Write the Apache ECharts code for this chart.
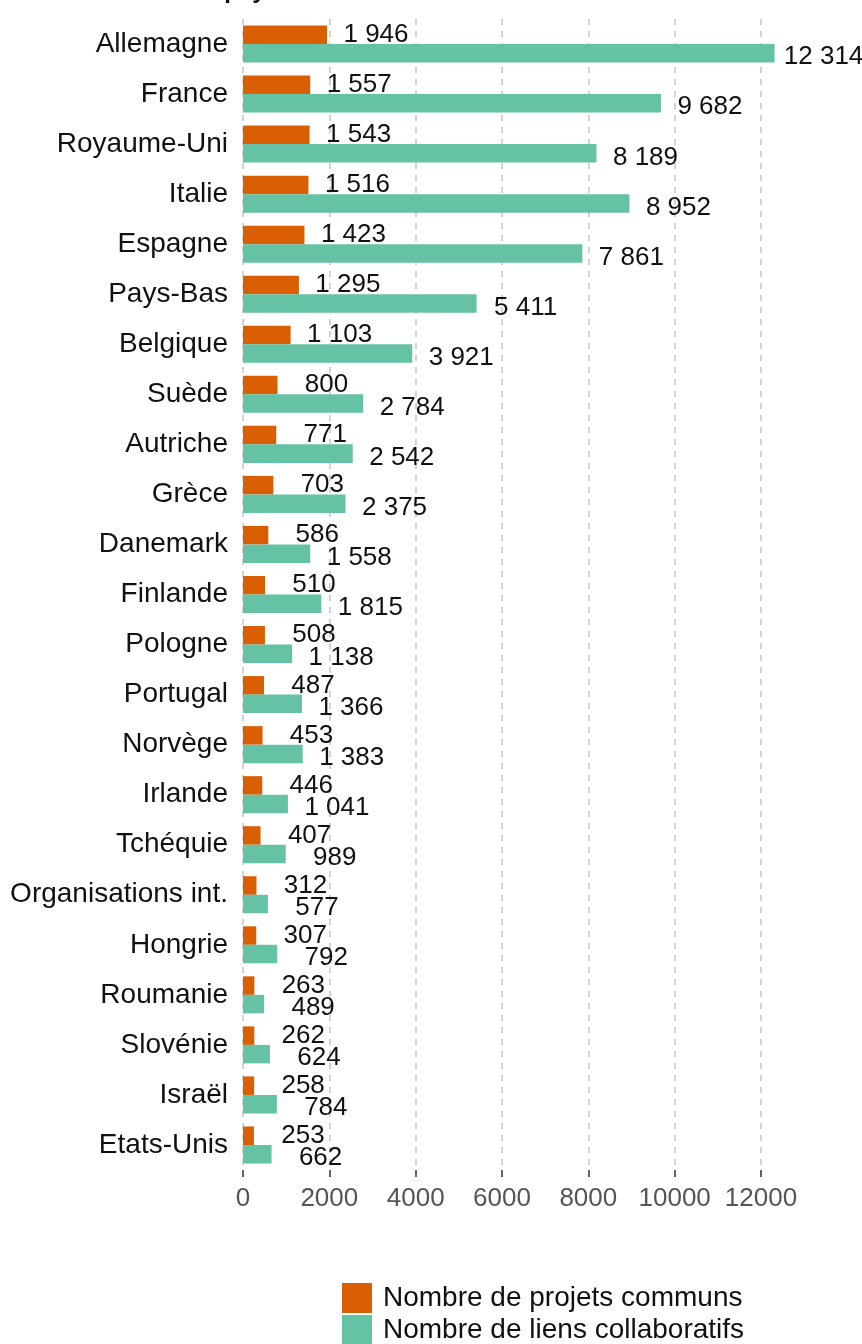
<!DOCTYPE html>
<html>
<head>
<meta charset="utf-8">
<script src="https://cdn.jsdelivr.net/npm/echarts@6/dist/echarts.min.js"></script>
<style>
  html, body { margin: 0; padding: 0; background: #ffffff; }
  #chart { width: 862px; height: 1344px; }
</style>
</head>
<body>
<div id="chart"></div>
<script>
// Partner countries, listed from top to bottom
const categories = [
  'Allemagne', 'France', 'Royaume-Uni', 'Italie', 'Espagne', 'Pays-Bas',
  'Belgique', 'Suède', 'Autriche', 'Grèce', 'Danemark', 'Finlande',
  'Pologne', 'Portugal', 'Norvège', 'Irlande', 'Tchéquie',
  'Organisations int.', 'Hongrie', 'Roumanie', 'Slovénie', 'Israël', 'Etats-Unis'
];

// Number of joint projects per country
const projetsCommuns = [
  1946, 1557, 1543, 1516, 1423, 1295, 1103, 800, 771, 703, 586, 510,
  508, 487, 453, 446, 407, 312, 307, 263, 262, 258, 253
];

// Number of collaborative links per country
const liensCollaboratifs = [
  12314, 9682, 8189, 8952, 7861, 5411, 3921, 2784, 2542, 2375, 1558, 1815,
  1138, 1366, 1383, 1041, 989, 577, 792, 489, 624, 784, 662
];

const seriesNames = ['Nombre de projets communs', 'Nombre de liens collaboratifs'];
const xTicks = [0, 2000, 4000, 6000, 8000, 10000, 12000];

const FONT = '"Liberation Sans", Arial, Helvetica, sans-serif';

// French thousands grouping: 12314 -> "12 314"
function frNumber(v) {
  return String(v).replace(/\B(?=(\d{3})+(?!\d))/g, ' ');
}

const chart = echarts.init(document.getElementById('chart'), null, { renderer: 'canvas' });

const labelBase = {
  show: true,
  position: 'right',
  distance: 49,
  align: 'center',
  fontFamily: FONT,
  fontSize: 26,
  color: '#111111',
  formatter: p => frNumber(p.value)
};

chart.setOption({
  animation: false,
  backgroundColor: '#ffffff',
  graphic: [{
    type: 'text',
    silent: true,
    style: {
      text: 'Collaborations des pays',
      x: 279,
      y: -9,
      align: 'right',
      verticalAlign: 'middle',
      fontFamily: FONT,
      fontWeight: 'bold',
      fontSize: 24,
      fill: '#111111'
    }
  }],
  grid: {
    left: 243,
    right: 101,
    top: 19,
    bottom: 174,
    containLabel: false
  },
  legend: {
    orient: 'vertical',
    left: 337,
    top: 1278,
    height: 90,
    itemWidth: 30,
    itemHeight: 30,
    itemGap: 2,
    icon: 'rect',
    data: seriesNames,
    textStyle: {
      fontFamily: FONT,
      fontSize: 28,
      color: '#111111',
      padding: [0, 0, 0, 6]
    }
  },
  xAxis: {
    type: 'value',
    min: 0,
    max: 12000,
    interval: 2000,
    axisLine: { show: false },
    axisTick: {
      show: true,
      length: 7,
      lineStyle: { color: '#333333', width: 1.5 }
    },
    axisLabel: {
      margin: 16,
      fontFamily: FONT,
      fontSize: 26,
      color: '#555555',
      formatter: v => (xTicks.indexOf(v) >= 0 ? String(v) : '')
    },
    splitLine: {
      show: true,
      lineStyle: { color: '#c4c4c4', width: 1.5, type: [6, 6] }
    }
  },
  yAxis: {
    type: 'category',
    inverse: true,
    data: categories,
    axisLine: { show: false },
    axisTick: { show: false },
    axisLabel: {
      margin: 15,
      fontFamily: FONT,
      fontSize: 28,
      color: '#111111',
      padding: [5, 0, 0, 0]
    }
  },
  series: [
    {
      name: seriesNames[0],
      type: 'bar',
      data: projetsCommuns,
      barGap: '0%',
      barCategoryGap: '26%',
      clip: false,
      itemStyle: { color: '#D95F02' },
      label: Object.assign({}, labelBase, { offset: [0, 0] })
    },
    {
      name: seriesNames[1],
      type: 'bar',
      data: liensCollaboratifs,
      barGap: '0%',
      barCategoryGap: '26%',
      clip: false,
      itemStyle: { color: '#66C2A5' },
      label: Object.assign({}, labelBase, { offset: [0, 4] })
    }
  ]
});
</script>
</body>
</html>
